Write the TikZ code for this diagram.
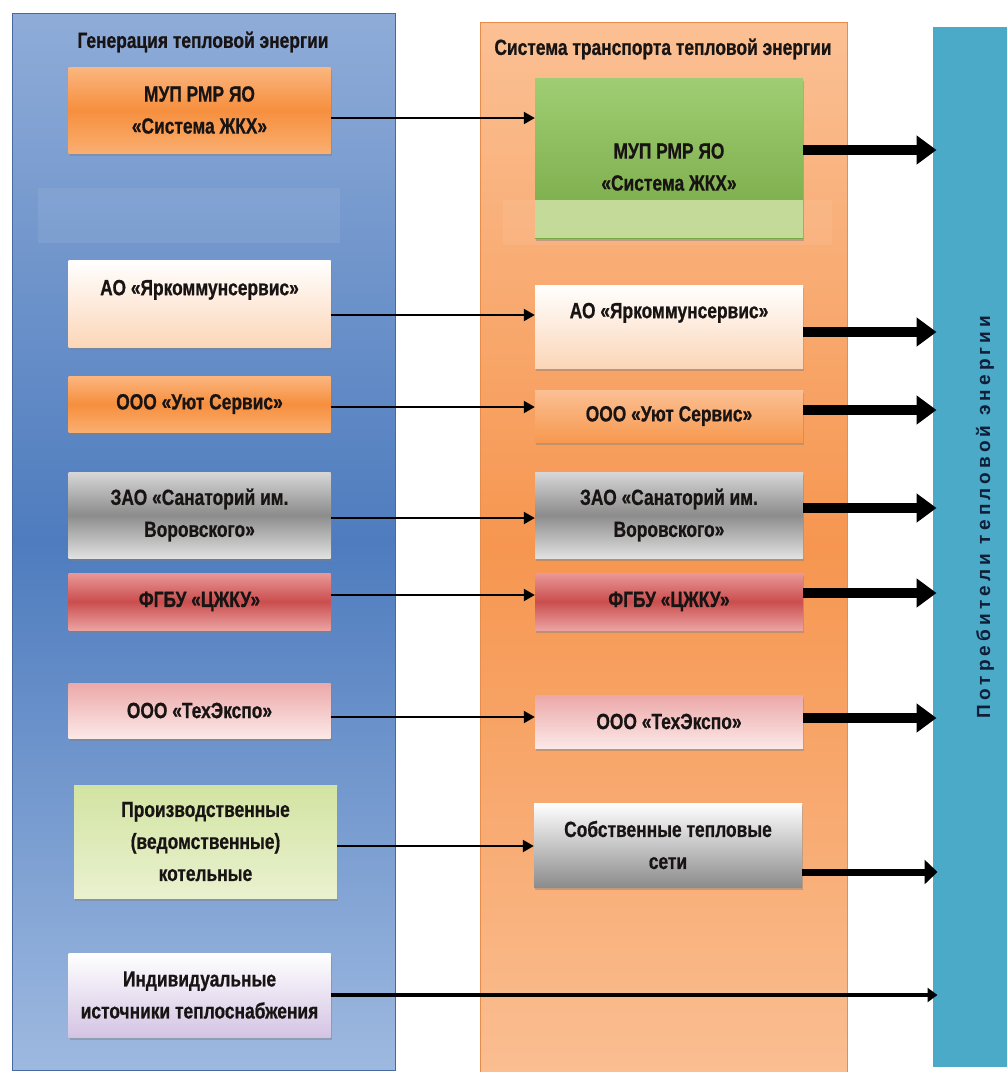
\documentclass[tikz,border=0pt]{standalone}
\usepackage{fontspec}
\setmainfont{Liberation Sans}
\newfontfamily\condfont{Liberation Sans}[FakeStretch=0.79,FakeBold=0.7]
\newfontfamily\barfont{Liberation Sans}[LetterSpace=22]
\usetikzlibrary{arrows.meta,shadows,calc}
\definecolor{txt}{RGB}{25,20,20}
\definecolor{blTop}{RGB}{143,172,216}
\definecolor{blMid}{RGB}{78,124,190}
\definecolor{blBot}{RGB}{158,185,224}
\definecolor{blEdge}{RGB}{70,105,160}
\definecolor{orTop}{RGB}{251,192,148}
\definecolor{orMid}{RGB}{246,150,80}
\definecolor{orBot}{RGB}{250,190,145}
\definecolor{orEdge}{RGB}{232,140,75}
\definecolor{barblue}{RGB}{74,170,200}
\definecolor{barText}{RGB}{16,30,56}
\definecolor{oTop}{RGB}{251,182,128}
\definecolor{oMid}{RGB}{246,143,62}
\definecolor{oBot}{RGB}{250,174,112}
\definecolor{peach}{RGB}{252,214,184}
\definecolor{gTop}{RGB}{215,215,215}
\definecolor{gMid}{RGB}{140,140,140}
\definecolor{gBot}{RGB}{225,225,225}
\definecolor{rTop}{RGB}{234,152,152}
\definecolor{rMid}{RGB}{202,78,78}
\definecolor{rBot}{RGB}{236,162,162}
\definecolor{pTop}{RGB}{236,168,168}
\definecolor{pBot}{RGB}{252,232,232}
\definecolor{lgTop}{RGB}{210,228,162}
\definecolor{lgBot}{RGB}{234,241,208}
\definecolor{lav}{RGB}{212,196,228}
\definecolor{grTop}{RGB}{160,205,115}
\definecolor{grBot}{RGB}{118,168,68}
\definecolor{grBand}{RGB}{196,218,152}
\definecolor{sTop}{RGB}{255,255,255}
\definecolor{sBot}{RGB}{140,140,140}
\begin{document}
\begin{tikzpicture}[x=1pt,y=-1pt,
  panel/.style={rectangle,inner sep=0pt,line width=1pt},
  box/.style={rectangle,inner sep=0pt,align=center,text=txt,
    font=\condfont\bfseries\fontsize{22}{32}\selectfont,
    drop shadow={shadow xshift=1pt,shadow yshift=-3pt,opacity=0.45}},
  lbox/.style={box,minimum width=262pt},
  rbox/.style={box,minimum width=268pt},
  lbl/.style={inner sep=0pt,align=center,text=txt,
    font=\condfont\bfseries\fontsize{22}{32}\selectfont},
  ttl/.style={inner sep=0pt,text=txt,
    font=\condfont\bfseries\fontsize{22}{26}\selectfont},
  thinarr/.style={line width=2.2pt,-{Triangle[length=11pt,width=12pt]}},
  thickarr/.style={line width=10pt,-{Triangle[length=20pt,width=28pt]}},
  midarr/.style={line width=7pt,-{Triangle[length=13pt,width=24pt]}},
  longarr/.style={line width=3.5pt,-{Triangle[length=10pt,width=14pt]}}
]
\useasboundingbox (0,0) rectangle (1007,1072);
\fill[white] (0,0) rectangle (1007,1072);

% panels
\node[panel,draw=blEdge,top color=blTop,bottom color=blBot,middle color=blMid,
  minimum width=383pt,minimum height=1057pt] (PL) at (203.5,541.5) {};
\node[panel,draw=orEdge,top color=orTop,bottom color=orBot,middle color=orMid,
  minimum width=367pt,minimum height=1050pt] (PO) at (663.5,547) {};
\node[panel,fill=barblue,minimum width=74pt,minimum height=1040pt] (B) at (970,547) {};

% faint ghost bands
\fill[white,opacity=0.07] (38,188) rectangle (340,243);
\fill[white,opacity=0.07] (503,200) rectangle (832,245);

% titles
\node[ttl] (TL) at (203,42) {Генерация тепловой энергии};
\node[ttl] (TO) at (663,49) {Система транспорта тепловой энергии};
\node[rotate=90,inner sep=0pt,text=barText,
  font=\barfont\bfseries\fontsize{19}{20}\selectfont] (BT) at (985,517)
  {Потребители тепловой энергии};

% left column
\node[lbox,minimum height=86pt,top color=oTop,bottom color=oBot,middle color=oMid]
  (L1) at (199.5,110) {МУП РМР ЯО\\«Система ЖКХ»};
\node[lbox,minimum height=87pt,top color=white,bottom color=peach]
  (L2) at (199.5,303.5) {АО «Яркоммунсервис»\\\mbox{}};
\node[lbox,minimum height=56pt,top color=oTop,bottom color=oBot,middle color=oMid]
  (L3) at (199.5,404) {ООО «Уют Сервис»};
\node[lbox,minimum height=86pt,top color=gTop,bottom color=gBot,middle color=gMid]
  (L4) at (199.5,515) {ЗАО «Санаторий им.\\Воровского»};
\node[lbox,minimum height=57pt,top color=rTop,bottom color=rBot,middle color=rMid]
  (L5) at (199.5,601.5) {ФГБУ «ЦЖКУ»};
\node[lbox,minimum height=55pt,top color=pTop,bottom color=pBot]
  (L6) at (199.5,710.5) {ООО «ТехЭкспо»};
\node[lbox,minimum width=263pt,minimum height=113pt,top color=lgTop,bottom color=lgBot]
  (L7) at (205.5,841.5) {Производственные\\(ведомственные)\\котельные};
\node[lbox,minimum height=84pt,top color=white,bottom color=lav]
  (L8) at (199.5,995) {Индивидуальные\\источники теплоснабжения};

% right column
\node[rbox,minimum height=160pt,top color=grTop,bottom color=grBot]
  (R1) at (669,158) {};
\fill[grBand] (535,200) rectangle (803,238);
\node[lbl] (R1t) at (669,167) {МУП РМР ЯО\\«Система ЖКХ»};
\node[rbox,minimum height=83pt,top color=white,bottom color=peach]
  (R2) at (669,326.5) {АО «Яркоммунсервис»\\\mbox{}};
\node[rbox,minimum height=52pt,top color=orTop,bottom color=oMid!80!orTop]
  (R3) at (669,416) {ООО «Уют Сервис»};
\node[rbox,minimum height=86pt,top color=gTop,bottom color=gBot,middle color=gMid]
  (R4) at (669,515) {ЗАО «Санаторий им.\\Воровского»};
\node[rbox,minimum height=57pt,top color=rTop,bottom color=rBot,middle color=rMid]
  (R5) at (669,601.5) {ФГБУ «ЦЖКУ»};
\node[rbox,minimum height=53pt,top color=pTop,bottom color=pBot]
  (R6) at (669,721.5) {ООО «ТехЭкспо»};
\node[rbox,minimum height=84pt,top color=sTop,bottom color=sBot]
  (R7) at (668,845) {Собственные тепловые\\сети};

% thin connectors
\draw[thinarr] (L1.east |- 0,118) -- (R1.west |- 0,118);
\draw[thinarr] (L2.east |- 0,315) -- (R2.west |- 0,315);
\draw[thinarr] (L3.east |- 0,407) -- (R3.west |- 0,407);
\draw[thinarr] (L4.east |- 0,518) -- (R4.west |- 0,518);
\draw[thinarr] (L5.east |- 0,595) -- (R5.west |- 0,595);
\draw[thinarr] (L6.east |- 0,717) -- (R6.west |- 0,717);
\draw[thinarr] (L7.east |- 0,846) -- (R7.west |- 0,846);

% connectors to consumers
\draw[thickarr] (R1.east |- 0,150) -- ([xshift=4pt]B.west |- 0,150);
\draw[thickarr] (R2.east |- 0,332) -- ([xshift=4pt]B.west |- 0,332);
\draw[thickarr] (R3.east |- 0,410) -- ([xshift=4pt]B.west |- 0,410);
\draw[thickarr] (R4.east |- 0,508) -- ([xshift=4pt]B.west |- 0,508);
\draw[thickarr] (R5.east |- 0,593) -- ([xshift=4pt]B.west |- 0,593);
\draw[thickarr] (R6.east |- 0,718) -- ([xshift=4pt]B.west |- 0,718);
\draw[midarr] (R7.east |- 0,872) -- ([xshift=5pt]B.west |- 0,872);
\draw[longarr] (L8.east |- 0,995) -- ([xshift=5pt]B.west |- 0,995);
\end{tikzpicture}
\end{document}
